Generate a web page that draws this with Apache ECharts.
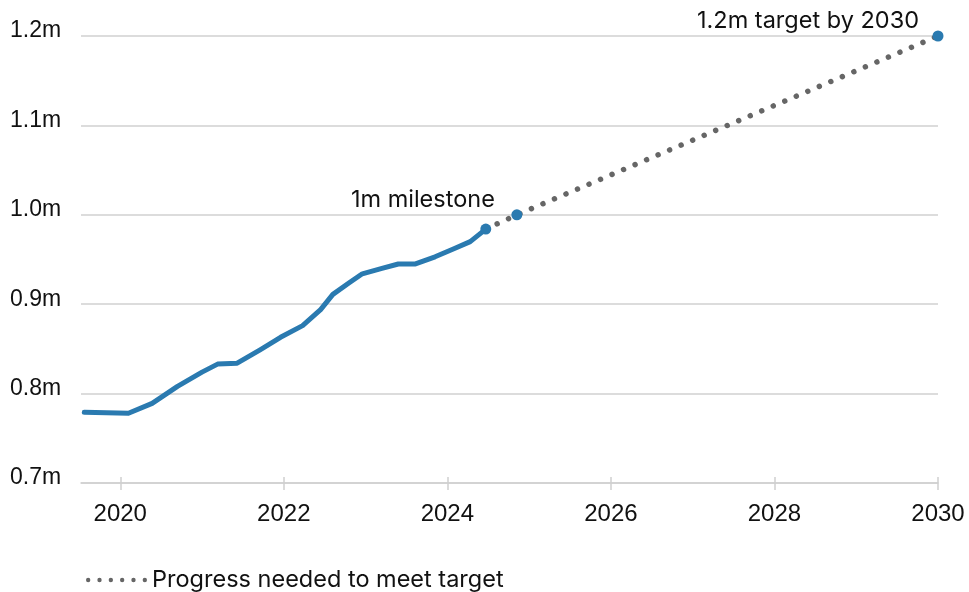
<!DOCTYPE html>
<html>
<head>
<meta charset="utf-8">
<script src="https://cdn.jsdelivr.net/npm/echarts@6/dist/echarts.min.js"></script>
<style>
  html, body { margin: 0; padding: 0; background: #fff; }
  #chart { width: 969px; height: 592px; }
</style>
</head>
<body>
<div id="chart"></div>
<script>
// actual figures (millions), [year, value]
var actualYears = [2019.56, 2020.1, 2020.39, 2020.7, 2021.0, 2021.19, 2021.43, 2021.71, 2021.96, 2022.23, 2022.45, 2022.6, 2022.8, 2022.96, 2023.2, 2023.4, 2023.61, 2023.85, 2024.08, 2024.28, 2024.47];
var actualValues = [0.779, 0.778, 0.789, 0.808, 0.824, 0.833, 0.834, 0.849, 0.863, 0.876, 0.894, 0.911, 0.924, 0.934, 0.940, 0.945, 0.945, 0.953, 0.962, 0.970, 0.984];

// trajectory to target
var pathYears = [2024.47, 2024.85, 2030];
var pathValues = [0.984, 1.0, 1.2];

var yearTicks = [2020, 2022, 2024, 2026, 2028, 2030];

var notes = ['', '1m milestone', '1.2m target by 2030'];

var blue = '#2a7ab0';
var grey = '#666666';
var ink = '#111111';
var axisFont = 'Liberation Sans';
var textFont = 'Inter';

// six dots for the legend key
var dotsIcon = '';
for (var k = 0; k < 6; k++) {
	var cx = 2.25 + k * 11.7;
	dotsIcon += 'M' + (cx - 2.25) + ',2.25a2.25,2.25 0 1,0 4.5,0a2.25,2.25 0 1,0 -4.5,0z';
}
dotsIcon = 'path://' + dotsIcon;

function pairs(xs, ys) {
	return xs.map(function (x, i) { return [x, ys[i]]; });
}

var chart = echarts.init(document.getElementById('chart'));
var option = {
	animation: false,
	textStyle: { fontFamily: textFont, color: ink },
	grid: { left: 81, right: 31, top: 36, bottom: 109 },
	legend: {
		left: 81,
		top: 563,
		itemWidth: 61,
		itemHeight: 4.5,
		itemGap: 8,
		data: [{ name: 'Progress needed to meet target', icon: dotsIcon }],
		textStyle: { fontSize: 23.5, color: ink, fontFamily: textFont }
	},
	xAxis: [{
		type: 'value',
		min: 2019.52,
		max: 2030,
		splitLine: { show: false },
		axisLine: { show: true, lineStyle: { color: '#d0d0d0', width: 1.5 } },
		axisTick: { show: true, length: 7, customValues: yearTicks, lineStyle: { color: '#d0d0d0', width: 1.5 } },
		axisLabel: {
			customValues: yearTicks,
			margin: 19,
			fontSize: 24,
			fontFamily: axisFont,
			color: ink,
			formatter: function (v) { return String(v); }
		}
	}, {
		type: 'value',
		position: 'bottom',
		min: 2019.52,
		max: 2030,
		splitLine: { show: false },
		axisLine: { show: false },
		axisLabel: { show: false },
		axisTick: { show: true, inside: true, length: 6, customValues: yearTicks, lineStyle: { color: '#d0d0d0', width: 1.5 } }
	}],
	yAxis: {
		type: 'value',
		min: 0.7,
		max: 1.2,
		interval: 0.1,
		axisLine: { show: false },
		axisTick: { show: false },
		splitLine: { lineStyle: { color: '#d0d0d0', width: 1.5 } },
		axisLabel: {
			align: 'left',
			verticalAlign: 'bottom',
			lineHeight: 10,
			margin: 71,
			fontSize: 23,
			fontFamily: axisFont,
			color: ink,
			formatter: function (v) { return v.toFixed(1) + 'm'; }
		}
	},
	series: [{
		name: 'Progress needed to meet target',
		type: 'line',
		symbol: 'none',
		data: pairs(pathYears, pathValues),
		lineStyle: { color: grey, width: 5.5, type: [0.01, 12.5], cap: 'round' },
		itemStyle: { color: grey },
		z: 2
	}, {
		name: 'Actual',
		type: 'line',
		symbol: 'none',
		data: pairs(actualYears, actualValues),
		lineStyle: { color: blue, width: 5, join: 'round', cap: 'round' },
		z: 3
	}, {
		name: 'Points',
		type: 'scatter',
		symbolSize: 11,
		itemStyle: { color: blue, opacity: 1 },
		data: pathYears.map(function (x, i) {
			var d = { value: [x, pathValues[i]] };
			if (i === 1) {
				d.label = { show: true, position: 'top', offset: [-94, 8], formatter: notes[i] };
			} else if (i === 2) {
				d.label = { show: true, position: 'top', offset: [-130, 7], formatter: notes[i] };
			}
			return d;
		}),
		label: { fontSize: 23.5, color: ink, fontFamily: textFont },
		z: 4
	}]
};
chart.setOption(option);
</script>
</body>
</html>
